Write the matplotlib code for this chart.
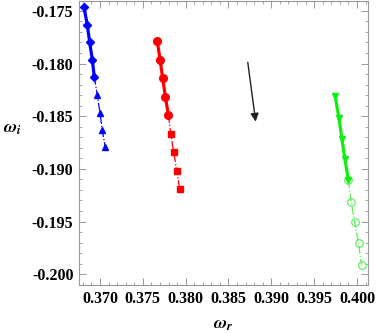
import numpy as np
import matplotlib.pyplot as plt
from matplotlib.ticker import MultipleLocator, FormatStrFormatter

# blue branch
blue_solid_x = [0.36813, 0.36852, 0.36880, 0.36910, 0.36933]
blue_solid_y = [-0.17463, -0.17634, -0.17800, -0.17962, -0.18125]
blue_dash_x = [0.36933, 0.36968, 0.37000, 0.37027, 0.37062]
blue_dash_y = [-0.18125, -0.18297, -0.18468, -0.18632, -0.18797]

# red branch
red_solid_x = [0.37669, 0.37701, 0.37732, 0.37763, 0.37798]
red_solid_y = [-0.17788, -0.17962, -0.18138, -0.18313, -0.18487]
red_dash_x = [0.37798, 0.37826, 0.37861, 0.37896, 0.37931]
red_dash_y = [-0.18487, -0.18665, -0.18843, -0.19019, -0.19194]

# green branch
green_solid_x = [0.39745, 0.39789, 0.39824, 0.39859, 0.39901]
green_solid_y = [-0.18306, -0.18515, -0.18712, -0.18906, -0.19110]
green_dash_x = [0.39901, 0.39932, 0.39975, 0.40018, 0.40053]
green_dash_y = [-0.19110, -0.19312, -0.19509, -0.19706, -0.19912]

plt.rcParams['font.family'] = ['Liberation Serif', 'DejaVu Serif']
plt.rcParams['font.weight'] = 'bold'
plt.rcParams['mathtext.fontset'] = 'stix'

fig = plt.figure(figsize=(3.82, 3.33), dpi=100)
ax = fig.add_axes([0.2068, 0.1441, 0.7566, 0.8529])

# dashed continuations first, so solid lines sit on top
ax.plot(blue_dash_x, blue_dash_y, color='blue', lw=0.9, ls='-.',
        marker='^', ms=4.5, markevery=[1, 2, 3, 4])
ax.plot(red_dash_x, red_dash_y, color='red', lw=0.9, ls='-.',
        marker='s', ms=4, markevery=[1, 2, 3, 4])
ax.plot(green_dash_x, green_dash_y, color='#55f055', lw=0.9, ls='-.',
        marker='o', ms=5.5, mfc='none', mew=0.8, markevery=[0, 1, 2, 3, 4])

ax.plot(blue_solid_x, blue_solid_y, color='blue', lw=2.3,
        marker='D', ms=4.5)
ax.plot(red_solid_x, red_solid_y, color='red', lw=2.3,
        marker='o', ms=5.5)
ax.plot(green_solid_x, green_solid_y, color='#11ee11', lw=2.3,
        marker='v', ms=5)

# arrow showing direction
ax.annotate('', xy=(0.38822, -0.18578), xytext=(0.38721, -0.17962),
            arrowprops=dict(arrowstyle='-|>', color='#222222', lw=1.0,
                            mutation_scale=12))

ax.set_xlim(0.36755, 0.40129)
ax.set_ylim(-0.20103, -0.17406)

ax.xaxis.set_major_locator(MultipleLocator(0.005))
ax.xaxis.set_minor_locator(MultipleLocator(0.001))
ax.yaxis.set_major_locator(MultipleLocator(0.005))
ax.yaxis.set_minor_locator(MultipleLocator(0.001))
ax.xaxis.set_major_formatter(FormatStrFormatter('%.3f'))
ax.yaxis.set_major_formatter(FormatStrFormatter('%.3f'))

ax.tick_params(which='both', direction='in', top=True, right=True,
               color='#999999', labelsize=11.5)
ax.tick_params(which='major', length=5, width=0.7, pad=4)
ax.tick_params(which='minor', length=2.5, width=0.6)
for s in ax.spines.values():
    s.set_color('#999999')
    s.set_linewidth(0.8)

ax.set_xlabel(r'$\omega_r$', fontsize=13, labelpad=7)
ax.set_ylabel(r'$\omega_i$', fontsize=13, rotation=0)
ax.yaxis.set_label_coords(-0.23, 0.52)

fig.savefig('out.png', dpi=100)
